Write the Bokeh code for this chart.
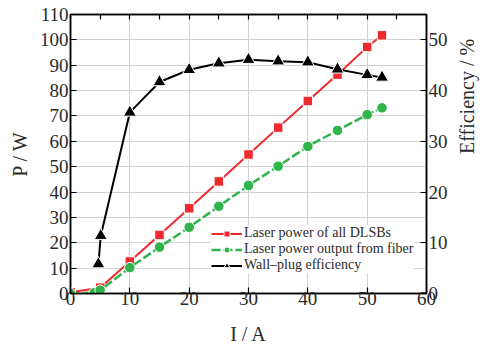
import math
from bokeh.plotting import figure
from bokeh.models import Range1d, LinearAxis, FixedTicker, Legend
from bokeh.embed import file_html
from bokeh.resources import INLINE

# ---- data ----
I_red = [0, 5, 10, 15, 20, 25, 30, 35, 40, 45, 50, 52.5]
P_red = [0.5, 2.3, 12.6, 23.1, 33.6, 44.2, 54.8, 65.4, 75.9, 86.3, 97.2, 101.8]
I_green = [0, 4, 5, 10, 15, 20, 25, 30, 35, 40, 45, 50, 52.5]
P_green = [0, 0.3, 1.3, 10.2, 18.3, 26.1, 34.4, 42.6, 50.2, 58.0, 64.3, 70.5, 73.2]
I_eff = [4.7, 5.1, 10, 15, 20, 25, 30, 35, 40, 45, 50, 52.5]
E_eff = [5.8, 11.4, 35.7, 41.7, 44.1, 45.4, 46.1, 45.8, 45.6, 44.2, 43.1, 42.6]

x_ticks = [0, 10, 20, 30, 40, 50, 60]
y_ticks = [0, 10, 20, 30, 40, 50, 60, 70, 80, 90, 100, 110]
eff_ticks = [0, 10, 20, 30, 40, 50]
top_ticks = [0, 5, 10, 15, 20, 25, 30, 35, 40, 45, 50, 55, 60]

label_red = "Laser power of all DLSBs"
label_green = "Laser power output from fiber"
label_eff = "Wall\u2013plug efficiency"

RED = "#ee2a2e"
GREEN = "#2fb34a"
BLACK = "#000000"
FONT = "Liberation Serif"
TXT = "#2a2a2a"

p = figure(width=495, height=347, output_backend="svg", toolbar_location=None,
           x_range=Range1d(0, 60), y_range=Range1d(0, 110),
           min_border_left=70, min_border_right=69, min_border_top=14,
           min_border_bottom=54)
p.extra_y_ranges = {"eff": Range1d(0, 55)}
p.outline_line_color = BLACK
p.outline_line_width = 1.5
p.background_fill_color = "white"
p.border_fill_color = "white"

# grid
p.xgrid.ticker = FixedTicker(ticks=x_ticks)
p.ygrid.ticker = FixedTicker(ticks=y_ticks)
for g in (p.xgrid, p.ygrid):
    g.grid_line_color = "#d2d2d2"
    g.grid_line_width = 1

def style_axis(ax, standoff, label, label_standoff):
    ax.axis_line_color = BLACK
    ax.axis_line_width = 1.5
    ax.major_tick_in = 6
    ax.major_tick_out = 0
    ax.major_tick_line_color = BLACK
    ax.major_tick_line_width = 1.2
    ax.minor_tick_line_color = None
    ax.major_label_text_font = FONT
    ax.major_label_text_font_size = "19px"
    ax.major_label_text_color = TXT
    ax.major_label_standoff = standoff
    ax.axis_label = label
    ax.axis_label_text_font = FONT
    ax.axis_label_text_font_size = "20px"
    ax.axis_label_text_font_style = "normal"
    ax.axis_label_text_color = TXT
    ax.axis_label_standoff = label_standoff

xa = p.xaxis[0]
xa.ticker = FixedTicker(ticks=x_ticks)
style_axis(xa, -2, "I / A", 15)
ya = p.yaxis[0]
ya.ticker = FixedTicker(ticks=y_ticks)
style_axis(ya, 2, "P / W", 6)

ra = LinearAxis(y_range_name="eff", ticker=FixedTicker(ticks=eff_ticks))
style_axis(ra, 2, "Efficiency / %", 16)
ra.axis_label_orientation = math.pi / 2
p.add_layout(ra, "right")

# top axis: only short inward tick marks, no labels
ta = LinearAxis(ticker=FixedTicker(ticks=[], minor_ticks=top_ticks))
ta.axis_line_color = BLACK
ta.axis_line_width = 1.5
ta.major_tick_line_color = None
ta.minor_tick_in = 5
ta.minor_tick_out = 0
ta.minor_tick_line_color = BLACK
ta.minor_tick_line_width = 1.2
ta.major_label_standoff = 0
p.add_layout(ta, "above")

# series
r1 = p.line(I_red, P_red, line_color=RED, line_width=2)
s1 = p.scatter(I_red, P_red, marker="square", size=9.5, fill_color=RED,
               line_color="white", line_width=1)
r2 = p.line(I_green, P_green, line_color=GREEN, line_width=2.5, line_dash="9 3")
s2 = p.scatter(I_green, P_green, marker="circle", size=10.5, fill_color=GREEN,
               line_color="white", line_width=1)
r3 = p.line(I_eff, E_eff, line_color=BLACK, line_width=2, y_range_name="eff")
s3 = p.scatter(I_eff, E_eff, marker="triangle", size=13, fill_color=BLACK,
               line_color="white", line_width=1, y_range_name="eff")

legend = Legend(items=[(label_red, [r1, s1]), (label_green, [r2, s2]),
                       (label_eff, [r3, s3])],
                location=(141, 20))
legend.background_fill_color = "white"
legend.background_fill_alpha = 1
legend.border_line_color = None
legend.label_text_font = FONT
legend.label_text_font_size = "14px"
legend.label_text_color = TXT
legend.label_height = 15
legend.glyph_height = 15
legend.glyph_width = 31
legend.label_standoff = 2
legend.spacing = 0
legend.padding = 4
legend.margin = 0
p.add_layout(legend, "center")

open("out.html", "w").write(file_html(p, INLINE))
